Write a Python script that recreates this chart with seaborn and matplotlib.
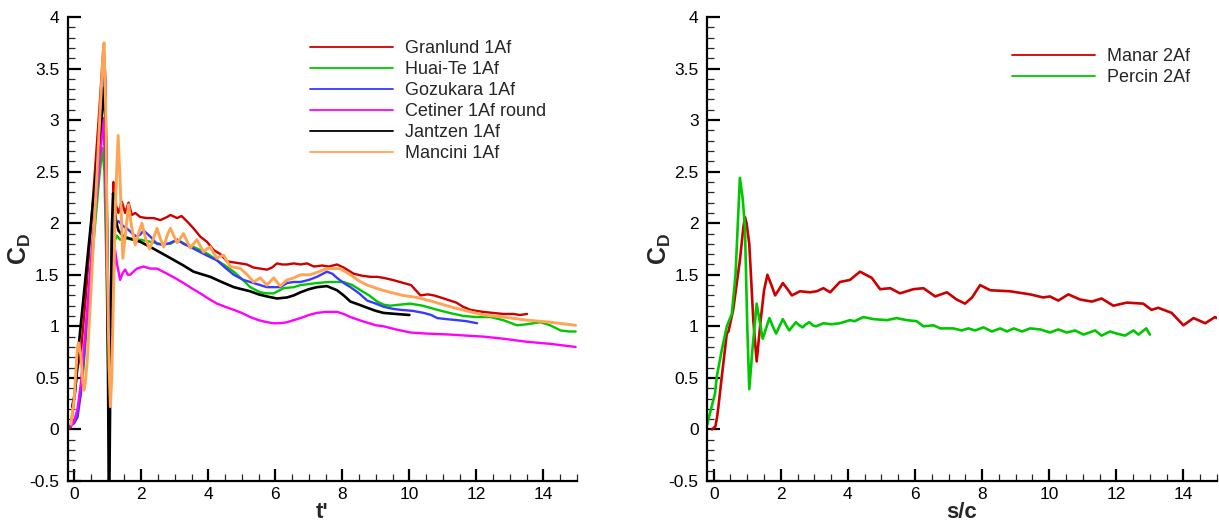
import numpy as np
import pandas as pd
import matplotlib
matplotlib.use("Agg")
import matplotlib.pyplot as plt
import seaborn as sns
from matplotlib.ticker import MultipleLocator, FuncFormatter

# ---------------- data ----------------
granlund_t = [-0.18,-0.1,0.0,0.1,0.2,0.35,0.55,0.75,0.84,0.88,0.93,0.98,1.03,1.08,1.13,1.17,1.22,1.32,1.42,1.52,1.62,1.72,1.82,1.97,2.17,2.37,2.57,2.77,2.87,3.07,3.2,3.36,3.56,3.76,3.96,4.16,4.36,4.56,4.76,4.96,5.15,5.35,5.55,5.75,5.9,6.05,6.2,6.35,6.55,6.75,6.95,7.15,7.4,7.6,7.84,8.04,8.34,8.6,8.84,9.04,9.23,9.5,9.83,10.05,10.33,10.55,10.73,10.93,11.12,11.4,11.6,11.82,12.0,12.2,12.5,12.8,13.1,13.3,13.51]
granlund_v = [0.0,0.02,0.3,0.6,0.75,1.3,2.2,3.1,3.55,3.73,3.4,2.1,0.7,0.5,1.6,2.4,2.2,2.1,2.21,2.1,2.2,2.08,2.1,2.06,2.05,2.05,2.03,2.06,2.08,2.05,2.07,2.02,1.95,1.87,1.82,1.74,1.7,1.63,1.62,1.61,1.6,1.57,1.56,1.55,1.57,1.61,1.6,1.6,1.61,1.6,1.61,1.58,1.59,1.58,1.6,1.57,1.51,1.49,1.48,1.48,1.47,1.45,1.42,1.40,1.30,1.31,1.30,1.28,1.26,1.23,1.19,1.16,1.15,1.14,1.13,1.12,1.12,1.11,1.12]

huaite_t = [-0.15,0.0,0.09,0.24,0.4,0.6,0.75,0.84,0.9,0.96,1.01,1.05,1.09,1.13,1.2,1.27,1.37,1.47,1.57,1.77,1.97,2.27,2.57,2.87,3.07,3.36,3.56,3.76,4.0,4.26,4.5,4.76,5.0,5.25,5.55,5.75,5.95,6.25,6.55,6.75,7.0,7.24,7.6,8.04,8.3,8.54,8.8,9.04,9.23,9.43,9.7,10.03,10.4,10.83,11.2,11.62,12.0,12.42,12.8,13.21,13.5,13.91,14.2,14.51,14.75,14.96]
huaite_v = [0.02,0.08,0.16,0.45,1.1,1.9,2.45,2.73,2.5,1.6,0.6,0.5,1.3,1.95,1.82,1.88,1.84,1.86,1.85,1.84,1.84,1.82,1.80,1.80,1.84,1.79,1.77,1.74,1.70,1.64,1.59,1.53,1.46,1.38,1.33,1.32,1.32,1.37,1.38,1.40,1.41,1.42,1.43,1.43,1.40,1.35,1.30,1.24,1.21,1.20,1.21,1.22,1.20,1.16,1.13,1.10,1.09,1.09,1.06,1.01,1.02,1.04,1.01,0.96,0.95,0.95]

gozukara_t = [-0.15,0.0,0.1,0.2,0.3,0.5,0.7,0.85,0.89,0.94,0.99,1.03,1.08,1.13,1.18,1.22,1.32,1.47,1.57,1.67,1.77,1.87,1.97,2.07,2.17,2.27,2.47,2.67,2.87,3.07,3.26,3.46,3.76,4.0,4.26,4.5,4.76,5.05,5.35,5.55,5.75,5.95,6.15,6.35,6.55,6.75,7.0,7.24,7.54,7.7,7.84,8.04,8.24,8.5,8.74,9.0,9.23,9.5,9.73,10.1,10.43,10.65,10.83,11.1,11.42,11.7,12.02]
gozukara_v = [0.03,0.06,0.12,0.35,0.75,1.6,2.5,3.25,3.44,3.0,1.6,0.4,1.2,2.05,2.0,1.98,2.02,1.97,1.95,1.92,1.89,1.87,1.89,1.93,1.9,1.87,1.80,1.79,1.81,1.84,1.80,1.77,1.72,1.68,1.64,1.57,1.50,1.45,1.42,1.40,1.38,1.38,1.38,1.42,1.43,1.43,1.45,1.48,1.53,1.51,1.47,1.42,1.38,1.32,1.25,1.22,1.19,1.17,1.16,1.15,1.13,1.11,1.08,1.07,1.06,1.05,1.03]

cetiner_t = [-0.1,0.0,0.1,0.2,0.4,0.6,0.8,0.86,0.92,0.98,1.03,1.1,1.16,1.22,1.28,1.37,1.45,1.52,1.6,1.67,1.77,1.87,2.07,2.27,2.47,2.77,3.0,3.26,3.5,3.76,4.0,4.26,4.5,4.76,5.0,5.25,5.5,5.75,5.95,6.15,6.35,6.55,6.75,7.0,7.24,7.5,7.84,8.04,8.24,8.6,9.0,9.23,9.6,10.03,10.5,11.22,11.7,12.22,12.8,13.51,14.2,14.96]
cetiner_v = [0.03,0.08,0.2,0.45,1.2,2.0,2.75,3.02,2.6,1.4,0.5,0.9,1.4,1.74,1.6,1.45,1.52,1.55,1.50,1.50,1.53,1.56,1.58,1.56,1.56,1.51,1.47,1.42,1.37,1.32,1.27,1.22,1.19,1.16,1.13,1.09,1.06,1.04,1.03,1.03,1.04,1.06,1.08,1.11,1.13,1.14,1.14,1.12,1.09,1.05,1.01,1.0,0.97,0.94,0.93,0.92,0.91,0.90,0.88,0.85,0.83,0.80]

jantzen_t = [-0.06,0.02,0.09,0.13,0.3,0.5,0.7,0.85,0.89,0.94,0.98,1.01,1.03,1.05,1.07,1.1,1.13,1.16,1.2,1.26,1.32,1.47,1.77,1.97,2.27,2.77,3.26,3.56,4.06,4.4,4.76,5.0,5.25,5.5,5.75,6.05,6.35,6.55,6.75,7.0,7.24,7.54,7.84,8.04,8.24,8.5,8.74,9.0,9.23,9.6,10.0]
jantzen_v = [0.22,0.35,0.61,0.8,1.35,2.0,2.65,3.15,3.31,2.9,1.8,0.5,-0.55,-0.55,0.2,1.2,2.0,2.29,2.15,2.0,1.93,1.87,1.84,1.82,1.77,1.68,1.59,1.53,1.48,1.43,1.38,1.36,1.34,1.31,1.29,1.27,1.28,1.30,1.33,1.36,1.38,1.39,1.35,1.30,1.24,1.21,1.18,1.15,1.13,1.12,1.11]

mancini_t = [-0.1,0.0,0.04,0.1,0.13,0.2,0.26,0.29,0.33,0.39,0.5,0.65,0.8,0.86,0.89,0.94,0.99,1.04,1.08,1.12,1.17,1.23,1.31,1.37,1.45,1.53,1.62,1.72,1.82,1.92,2.02,2.13,2.25,2.36,2.47,2.57,2.67,2.77,2.87,2.97,3.07,3.16,3.26,3.36,3.46,3.56,3.66,3.76,3.86,3.96,4.06,4.16,4.26,4.36,4.46,4.56,4.66,4.81,4.96,5.16,5.35,5.55,5.75,5.95,6.15,6.35,6.55,6.75,7.04,7.3,7.54,7.94,8.24,8.5,8.74,9.1,9.43,9.8,10.23,10.7,11.22,11.7,12.22,12.8,13.51,14.2,14.96]
mancini_v = [0.05,0.3,0.51,0.8,0.84,0.72,0.45,0.38,0.45,0.67,1.35,2.3,3.25,3.65,3.75,3.1,1.6,0.6,0.22,0.5,1.3,2.2,2.85,2.4,1.66,1.9,2.18,1.95,1.79,1.9,2.0,1.85,1.75,1.85,1.95,1.85,1.77,1.88,1.95,1.88,1.81,1.85,1.90,1.83,1.76,1.80,1.84,1.78,1.72,1.75,1.77,1.71,1.66,1.68,1.69,1.63,1.58,1.57,1.56,1.50,1.43,1.47,1.40,1.47,1.39,1.45,1.47,1.50,1.50,1.53,1.56,1.56,1.50,1.44,1.40,1.36,1.33,1.30,1.28,1.24,1.19,1.15,1.11,1.09,1.06,1.04,1.01]

manar_s = [-0.05,0.05,0.1,0.14,0.24,0.39,0.44,0.58,0.78,0.88,0.93,0.98,1.06,1.18,1.28,1.4,1.5,1.6,1.72,1.83,1.95,2.06,2.2,2.33,2.57,2.87,3.07,3.27,3.47,3.76,4.06,4.36,4.71,4.96,5.26,5.55,5.95,6.25,6.6,6.95,7.24,7.49,7.7,7.94,8.24,8.83,9.43,9.82,10.02,10.27,10.57,10.92,11.27,11.56,11.91,12.31,12.8,13.05,13.25,13.65,14.0,14.3,14.65,14.94,15.0]
manar_v = [0.0,0.03,0.12,0.22,0.51,0.93,0.95,1.16,1.64,1.95,2.06,2.0,1.80,1.06,0.66,1.06,1.35,1.50,1.40,1.30,1.36,1.42,1.36,1.30,1.34,1.33,1.34,1.37,1.33,1.43,1.45,1.53,1.47,1.36,1.37,1.32,1.36,1.37,1.29,1.33,1.26,1.22,1.28,1.40,1.35,1.34,1.31,1.28,1.29,1.25,1.31,1.26,1.24,1.27,1.20,1.23,1.22,1.16,1.18,1.13,1.01,1.08,1.03,1.09,1.08]

percin_s = [-0.2,-0.11,0.04,0.09,0.24,0.39,0.54,0.65,0.78,0.86,0.93,1.0,1.06,1.16,1.28,1.37,1.46,1.56,1.66,1.76,1.86,1.96,2.06,2.16,2.25,2.35,2.45,2.55,2.65,2.75,2.85,2.95,3.05,3.27,3.5,3.76,4.06,4.2,4.46,4.76,5.16,5.45,5.75,6.05,6.25,6.55,6.75,7.14,7.39,7.59,7.79,8.04,8.29,8.54,8.74,8.94,9.19,9.43,9.73,10.02,10.27,10.52,10.77,11.02,11.37,11.56,11.81,12.01,12.26,12.51,12.66,12.89,13.0]
percin_v = [0.04,0.16,0.35,0.51,0.77,1.0,1.12,1.5,2.44,2.25,1.97,1.0,0.39,0.8,1.22,1.05,0.88,0.98,1.08,1.0,0.93,1.0,1.07,1.01,0.96,1.0,1.04,1.01,0.99,1.02,1.04,1.01,1.0,1.03,1.02,1.03,1.06,1.05,1.09,1.07,1.06,1.08,1.06,1.05,1.0,1.01,0.98,0.98,0.96,0.98,0.96,0.99,0.95,0.98,0.95,0.98,0.95,0.98,0.97,0.94,0.97,0.94,0.96,0.92,0.96,0.91,0.95,0.93,0.91,0.96,0.92,0.98,0.92]

left_series = [
    ("Granlund 1Af", granlund_t, granlund_v, "#CC0000", 1.7),
    ("Huai-Te 1Af", huaite_t, huaite_v, "#00C800", 1.7),
    ("Gozukara 1Af", gozukara_t, gozukara_v, "#3A3AFF", 1.7),
    ("Cetiner 1Af round", cetiner_t, cetiner_v, "#FF00FF", 1.7),
    ("Jantzen 1Af", jantzen_t, jantzen_v, "#000000", 1.9),
    ("Mancini 1Af", mancini_t, mancini_v, "#FFA455", 2.1),
]
right_series = [
    ("Manar 2Af", manar_s, manar_v, "#CC0000", 1.9),
    ("Percin 2Af", percin_s, percin_v, "#00C800", 1.9),
]

# ---------------- style ----------------
sns.set_style("ticks")
plt.rcParams["font.family"] = ["Liberation Sans", "DejaVu Sans"]
plt.rcParams["mathtext.fontset"] = "custom"
plt.rcParams["mathtext.rm"] = "Liberation Sans"
plt.rcParams["mathtext.bf"] = "Liberation Sans:bold"
plt.rcParams["axes.unicode_minus"] = False

W, H = 1219, 525
fig = plt.figure(figsize=(W / 100, H / 100), dpi=100)
ax1 = fig.add_axes([67.5 / W, 1 - 481 / H, (577 - 67.5) / W, (481 - 17) / H])
ax2 = fig.add_axes([707 / W, 1 - 481 / H, (1217 - 707) / W, (481 - 17) / H])

def draw(ax, series, xname):
    for name, xs, ys, col, lw in series:
        df = pd.DataFrame({xname: xs, "CD": ys})
        sns.lineplot(data=df, x=xname, y="CD", ax=ax, color=col, lw=lw,
                     label=name, sort=False, estimator=None)

draw(ax1, left_series, "t")
draw(ax2, right_series, "s")

fmt = FuncFormatter(lambda v, p: "%g" % v)
for ax in (ax1, ax2):
    ax.set_xlim(-0.2, 15)
    ax.set_ylim(-0.5, 4)
    ax.xaxis.set_major_locator(MultipleLocator(2))
    ax.xaxis.set_minor_locator(MultipleLocator(0.5))
    ax.yaxis.set_major_locator(MultipleLocator(0.5))
    ax.yaxis.set_minor_locator(MultipleLocator(0.1))
    ax.xaxis.set_major_formatter(fmt)
    ax.yaxis.set_major_formatter(fmt)
    for s in ("top", "right"):
        ax.spines[s].set_visible(False)
    for s in ("left", "bottom"):
        ax.spines[s].set_linewidth(1.6)
        ax.spines[s].set_color("black")
    ax.tick_params(which="major", direction="in", length=9, width=1.6,
                   labelsize=12.5, colors="black", top=False, right=False)
    ax.tick_params(axis="y", which="major", pad=6)
    ax.tick_params(axis="x", which="major", pad=4)
    ax.tick_params(which="minor", direction="in", length=5, width=0.9,
                   top=False, right=False)
    ax.set_ylabel(r"$\mathbf{C_D}$", fontsize=18, labelpad=-3)
    ax.patch.set_alpha(0)

ax1.set_xlabel("t'", fontsize=16, fontweight="bold", labelpad=0)
ax2.set_xlabel("s/c", fontsize=16, fontweight="bold", labelpad=0)

def legend(ax, x0, y0):
    leg = ax.legend(loc="upper left", bbox_to_anchor=(x0, y0), frameon=False,
                    fontsize=13, handlelength=4.6, handletextpad=0.65,
                    labelspacing=0.22, borderpad=0, borderaxespad=0)
    for ln in leg.get_lines():
        ln.set_linewidth(1.3)
    return leg

legend(ax1, (310 - 67.5) / 509.5, (481 - 40) / 464)
legend(ax2, (1012 - 707) / 510, (481 - 48) / 464)

fig.savefig("out.png", dpi=100)
